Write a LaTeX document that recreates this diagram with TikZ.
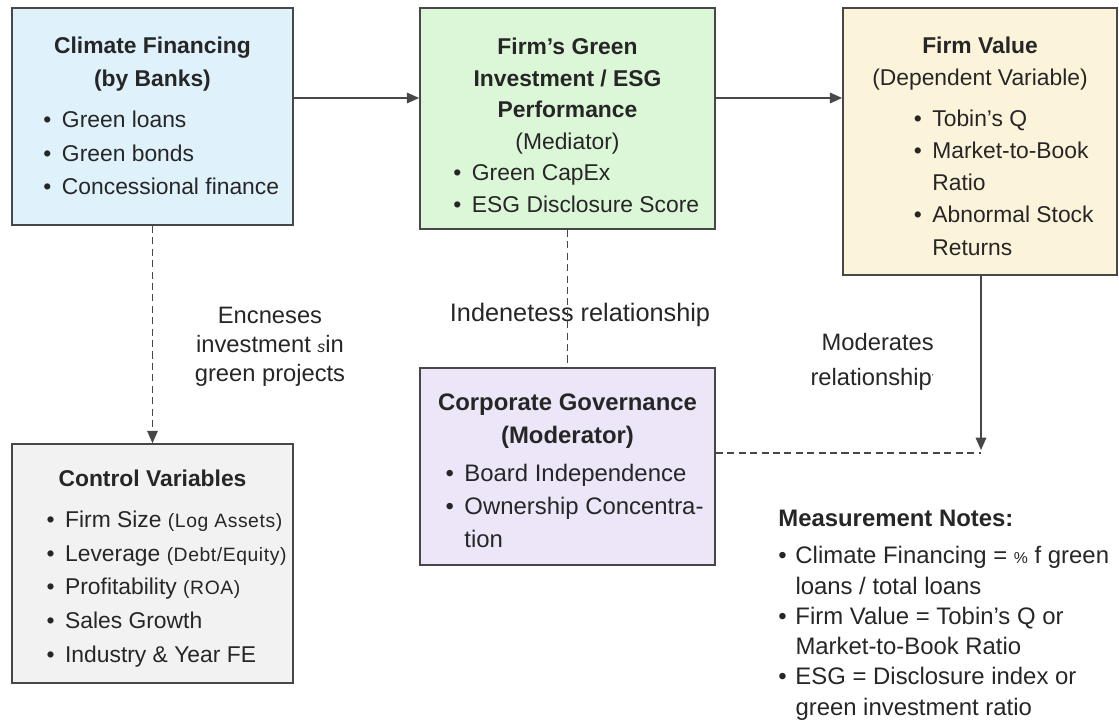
\documentclass[tikz,border=0pt]{standalone}
\usepackage{fontspec}
\setmainfont{Liberation Sans}
\usetikzlibrary{arrows.meta}
\definecolor{box-edge}{HTML}{474747}
\definecolor{ink}{HTML}{262626}
\definecolor{fin-blue}{HTML}{DFF1FB}
\definecolor{esg-green}{HTML}{DCF7D8}
\definecolor{val-yellow}{HTML}{FCF4DA}
\definecolor{ctl-gray}{HTML}{F2F2F2}
\definecolor{gov-lilac}{HTML}{ECE6F8}
\newcommand{\boxfont}{\fontsize{13}{18.8}\selectfont}
\newcommand{\bt}{\textbullet}
\newcommand{\paren}[1]{{\fontsize{11}{14}\selectfont\addfontfeature{LetterSpace=3}(#1)}}

\begin{document}
\begin{tikzpicture}[x=0.02cm, y=-0.02cm,
    every node/.style={font=\boxfont, text=ink},
    block/.style={draw=box-edge, line width=1pt, inner sep=0pt},
    boxtext/.style={align=center, anchor=north, inner sep=0pt},
    link/.style={draw=box-edge, line width=0.9pt, -{Triangle[length=7pt, width=6pt]}},
    dashlink/.style={link, dash pattern=on 4pt off 2.5pt}]
    \useasboundingbox (0,0) rectangle (1119,723);
    % boxes
    \node[block, fill=fin-blue, minimum width=5.62cm, minimum height=4.34cm] (CF) at (152.5, 116.5) {};
    \node[block, fill=esg-green, minimum width=5.9cm, minimum height=4.42cm] (GI) at (567.5, 118.5) {};
    \node[block, fill=val-yellow, minimum width=5.48cm, minimum height=5.34cm] (FV) at (980, 141.5) {};
    \node[block, fill=ctl-gray, minimum width=5.62cm, minimum height=4.78cm] (CV) at (152.5, 563.5) {};
    \node[block, fill=gov-lilac, minimum width=5.9cm, minimum height=3.94cm] (CG) at (567.5, 466.5) {};
    % box texts
    \node[boxtext] (CFt) at ([yshift=-0.58cm]CF.north)
      {\textbf{Climate Financing}\\ \textbf{(by Banks)}\\[7pt]
       \hspace{10pt}\begin{tabular}{@{}l@{\hspace{6pt}}l@{}}
       \bt & Green loans\\ \bt & Green bonds\\ \bt & Concessional finance
       \end{tabular}};
    \node[boxtext, font=\fontsize{13}{18.2}\selectfont] (GIt) at ([yshift=-0.6cm]GI.north)
      {\textbf{Firm's Green}\\ \textbf{Investment / ESG}\\ \textbf{Performance}\\ (Mediator)\\[1pt]
       \hspace{10pt}\begin{tabular}{@{}l@{\hspace{6pt}}l@{}}
       \bt & Green CapEx\\ \bt & ESG Disclosure Score
       \end{tabular}};
    \node[boxtext, font=\fontsize{13}{18.3}\selectfont] (FVt) at ([yshift=-0.58cm]FV.north)
      {\textbf{Firm Value}\\ (Dependent Variable)\\[7pt]
       \hspace{27pt}\begin{tabular}{@{}l@{\hspace{6pt}}l@{}}
       \bt & Tobin's Q\\ \bt & Market-to-Book\\ & Ratio\\ \bt & Abnormal Stock\\ & Returns
       \end{tabular}};
    \node[boxtext, font=\fontsize{13}{19.2}\selectfont] (CVt) at ([yshift=-0.52cm]CV.north)
      {\textbf{Control Variables}\\[9pt]
       \hspace{16pt}\begin{tabular}{@{}l@{\hspace{6pt}}l@{}}
       \bt & Firm Size \paren{Log Assets}\\ \bt & Leverage \paren{Debt/Equity}\\
       \bt & Profitability \paren{ROA}\\ \bt & Sales Growth\\ \bt & Industry \& Year FE
       \end{tabular}};
    \node[boxtext, font=\fontsize{13.6}{18.8}\selectfont] (CGt) at ([yshift=-0.52cm]CG.north)
      {\textbf{Corporate Governance}\\ \textbf{(Moderator)}\\[5pt]
       \hspace{8pt}\begin{tabular}{@{}l@{\hspace{6pt}}l@{}}
       \bt & Board Independence\\ \bt & Ownership Concentra-\\ & tion
       \end{tabular}};
    \node[anchor=north west, align=left, inner sep=0pt,
      font=\fontsize{13.6}{17.2}\selectfont] (MN) at (778, 510)
      {\textbf{Measurement Notes:}\\[8pt]
       \begin{tabular}{@{}l@{\hspace{5pt}}l@{}}
       \bt & Climate Financing = {\small\%} f green\\ & loans / total loans\\
       \bt & Firm Value = Tobin's Q or\\ & Market-to-Book Ratio\\
       \bt & ESG = Disclosure index or\\ & green investment ratio
       \end{tabular}};
    % edge labels
    \node[align=center, font=\fontsize{13.5}{16.5}\selectfont] (lbl1) at (270, 347)
      {Encneses\\ investment {\small\itshape s}in\\ green projects};
    \node[font=\fontsize{14.4}{17}\selectfont] (lbl2) at (580, 315) {Indenetess relationship};
    \node[align=right, anchor=east, font=\fontsize{13.5}{20}\selectfont] (lbl3) at (940, 362)
      {Moderates\\ relationship\raisebox{3pt}{\tiny'}};
    % connectors
    \coordinate (mod) at (981, 450);
    \draw[link] (CF.east |- 0,98) -- (GI.west |- 0,98);
    \draw[link] (GI.east |- 0,98) -- (FV.west |- 0,98);
    \draw[dashlink] (CF.south) -- (CV.north);
    \draw[dashlink, -] (GI.south) -- (CG.north);
    \draw[link] (FV.south -| mod) -- (mod);
    \draw[dashlink, -] (CG.east |- 0,453) -- (mod |- 0,453);
  \end{tikzpicture}
\end{document}
